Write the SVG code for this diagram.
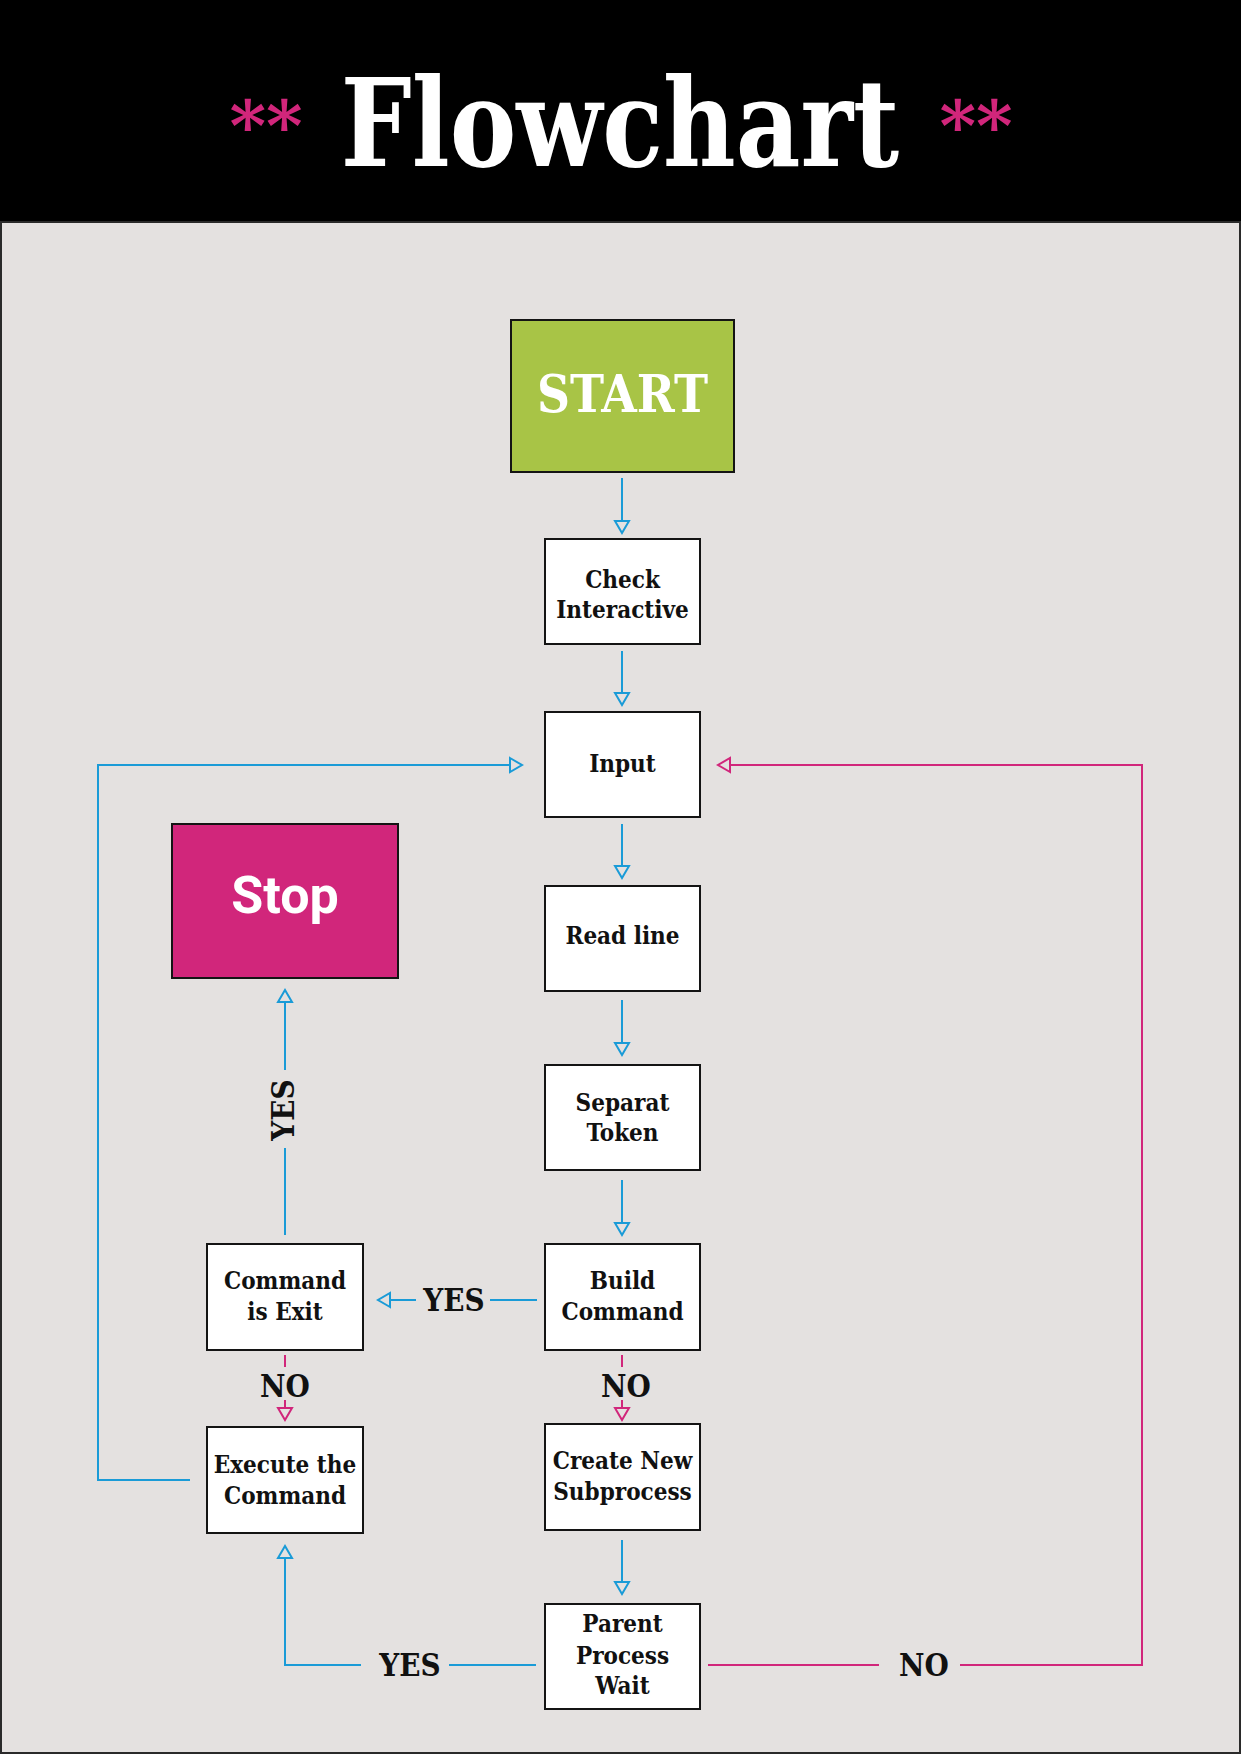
<svg xmlns="http://www.w3.org/2000/svg" width="1241" height="1754" viewBox="0 0 1241 1754">
<style>
.box{fill:#ffffff;stroke:#141414;stroke-width:2}
.lbl{font-family:"DejaVu Serif Condensed","DejaVu Serif",serif;font-weight:bold;font-size:24px;fill:#111;text-anchor:middle}
.yn{font-family:"DejaVu Serif Condensed","DejaVu Serif",serif;font-weight:bold;font-size:31px;fill:#111;text-anchor:middle}
.cb{fill:none;stroke:#1a9bd7;stroke-width:2}
.cm{fill:none;stroke:#d1267b;stroke-width:2}
.ast{font-family:"DejaVu Serif",serif;font-weight:bold;font-size:70px;fill:#d1267b;text-anchor:middle}
</style>
<defs>
<marker id="ab" markerUnits="userSpaceOnUse" viewBox="-2 -9 16 18" refX="12" refY="0" markerWidth="16" markerHeight="18" orient="auto">
<path d="M0,-7 L12,0 L0,7 Z" fill="#e4e1e0" stroke="#1a9bd7" stroke-width="2"/>
</marker>
<marker id="am" markerUnits="userSpaceOnUse" viewBox="-2 -9 16 18" refX="12" refY="0" markerWidth="16" markerHeight="18" orient="auto">
<path d="M0,-7 L12,0 L0,7 Z" fill="#e4e1e0" stroke="#d1267b" stroke-width="2"/>
</marker>
</defs>
<rect x="0" y="0" width="1241" height="222" fill="#000"/>
<rect x="1" y="222" width="1239" height="1531" fill="#e4e1e0" stroke="#2a2a2a" stroke-width="2"/>
<g id="title">
<text class="ast" x="266" y="150">**</text>
<text transform="translate(620,166) scale(1,1.1)" x="0" y="0" font-family="DejaVu Serif Condensed, DejaVu Serif, serif" font-weight="bold" font-size="111" fill="#fff" text-anchor="middle">Flowchart</text>
<text class="ast" x="976" y="150">**</text>
</g>
<g id="connectors">
<line class="cb" x1="622" y1="478" x2="622" y2="533" marker-end="url(#ab)"/>
<line class="cb" x1="622" y1="651" x2="622" y2="705" marker-end="url(#ab)"/>
<line class="cb" x1="622" y1="824" x2="622" y2="878" marker-end="url(#ab)"/>
<line class="cb" x1="622" y1="1000" x2="622" y2="1055" marker-end="url(#ab)"/>
<line class="cb" x1="622" y1="1180" x2="622" y2="1235" marker-end="url(#ab)"/>
<line class="cb" x1="537" y1="1300" x2="490" y2="1300"/>
<line class="cb" x1="416" y1="1300" x2="378" y2="1300" marker-end="url(#ab)"/>
<text class="yn" x="454" y="1311">YES</text>
<line class="cm" x1="622" y1="1355" x2="622" y2="1367"/>
<line class="cm" x1="622" y1="1400" x2="622" y2="1420" marker-end="url(#am)"/>
<text class="yn" x="626" y="1397">NO</text>
<line class="cm" x1="285" y1="1355" x2="285" y2="1367"/>
<line class="cm" x1="285" y1="1400" x2="285" y2="1420" marker-end="url(#am)"/>
<text class="yn" x="285" y="1397">NO</text>
<line class="cb" x1="285" y1="1235" x2="285" y2="1148"/>
<line class="cb" x1="285" y1="1070" x2="285" y2="990" marker-end="url(#ab)"/>
<text class="yn" transform="translate(294,1110) rotate(-90)" x="0" y="0">YES</text>
<line class="cb" x1="622" y1="1540" x2="622" y2="1594" marker-end="url(#ab)"/>
<line class="cb" x1="536" y1="1665" x2="449" y2="1665"/>
<polyline class="cb" points="361,1665 285,1665 285,1546" marker-end="url(#ab)"/>
<text class="yn" x="410" y="1676">YES</text>
<line class="cm" x1="708" y1="1665" x2="879" y2="1665"/>
<polyline class="cm" points="960,1665 1142,1665 1142,765 718,765" marker-end="url(#am)"/>
<text class="yn" x="924" y="1676">NO</text>
<polyline class="cb" points="190,1480 98,1480 98,765 522,765" marker-end="url(#ab)"/>
</g>
<g id="start">
<rect x="511" y="320" width="223" height="152" fill="#a8c446" stroke="#141414" stroke-width="2"/>
<text x="622.5" y="412" font-family="DejaVu Serif Condensed, DejaVu Serif, serif" font-weight="bold" font-size="52" fill="#fff" text-anchor="middle" textLength="171" lengthAdjust="spacingAndGlyphs">START</text>
</g>
<g id="check">
<rect class="box" x="545" y="539" width="155" height="105"/>
<text class="lbl" x="622.5" y="588">Check</text>
<text class="lbl" x="622.5" y="618">Interactive</text>
</g>
<g id="input">
<rect class="box" x="545" y="712" width="155" height="105"/>
<text class="lbl" x="622.5" y="772">Input</text>
</g>
<g id="readline">
<rect class="box" x="545" y="886" width="155" height="105"/>
<text class="lbl" x="622.5" y="944">Read line</text>
</g>
<g id="separat">
<rect class="box" x="545" y="1065" width="155" height="105"/>
<text class="lbl" x="622.5" y="1111">Separat</text>
<text class="lbl" x="622.5" y="1141">Token</text>
</g>
<g id="build">
<rect class="box" x="545" y="1244" width="155" height="106"/>
<text class="lbl" x="622.5" y="1289">Build</text>
<text class="lbl" x="622.5" y="1320">Command</text>
</g>
<g id="create">
<rect class="box" x="545" y="1424" width="155" height="106"/>
<text class="lbl" x="622.5" y="1469">Create New</text>
<text class="lbl" x="622.5" y="1500">Subprocess</text>
</g>
<g id="parent">
<rect class="box" x="545" y="1604" width="155" height="105"/>
<text class="lbl" x="622.5" y="1632">Parent</text>
<text class="lbl" x="622.5" y="1664">Process</text>
<text class="lbl" x="622.5" y="1694">Wait</text>
</g>
<g id="stop">
<rect x="172" y="824" width="226" height="154" fill="#d1267b" stroke="#141414" stroke-width="2"/>
<text x="285" y="913" font-family="Roboto, sans-serif" font-weight="bold" font-size="52" fill="#fff" text-anchor="middle">Stop</text>
</g>
<g id="cmdexit">
<rect class="box" x="207" y="1244" width="156" height="106"/>
<text class="lbl" x="285" y="1289">Command</text>
<text class="lbl" x="285" y="1320">is Exit</text>
</g>
<g id="execute">
<rect class="box" x="207" y="1427" width="156" height="106"/>
<text class="lbl" x="285" y="1473">Execute the</text>
<text class="lbl" x="285" y="1504">Command</text>
</g>
</svg>
